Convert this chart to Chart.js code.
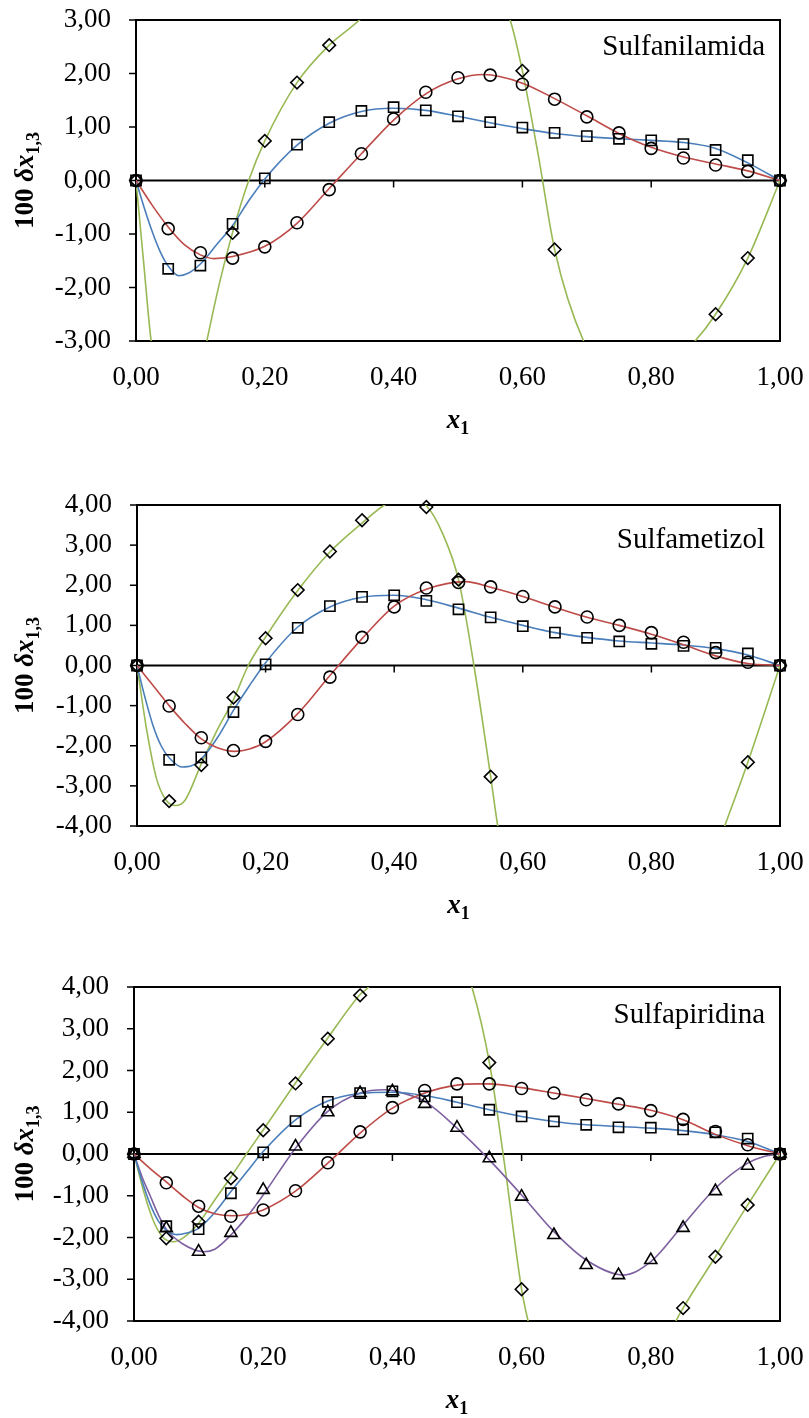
<!DOCTYPE html>
<html>
<head>
<meta charset="utf-8">
<script src="https://cdn.jsdelivr.net/npm/chart.js@4"></script>
<style>
  body { margin: 0; background: #fff; width: 809px; height: 1418px; position: relative; overflow: hidden; }
  .panel { position: absolute; left: 0; }
</style>
</head>
<body>
<div class="panel" style="top:0px"><canvas id="c1" width="809" height="440"></canvas></div>
<div class="panel" style="top:460px"><canvas id="c2" width="809" height="460"></canvas></div>
<div class="panel" style="top:940px"><canvas id="c3" width="809" height="478"></canvas></div>
<script>
// measured points, x1 from 0 to 1 step 0.05
const xMarks = [0, 0.05, 0.1, 0.15, 0.2, 0.25, 0.3, 0.35, 0.4, 0.45, 0.5, 0.55, 0.6, 0.65, 0.7, 0.75, 0.8, 0.85, 0.9, 0.95, 1]

// Sulfanilamida
const p1Circle = [0, -0.90, -1.35, -1.45, -1.24, -0.79, -0.17, 0.50, 1.15, 1.65, 1.92, 1.97, 1.80, 1.52, 1.19, 0.89, 0.60, 0.42, 0.29, 0.17, 0]
const p1Square = [0, -1.65, -1.59, -0.81, 0.04, 0.67, 1.09, 1.30, 1.37, 1.31, 1.20, 1.09, 0.99, 0.89, 0.83, 0.78, 0.75, 0.68, 0.57, 0.38, 0]
const p1Diamond = [0, null, null, -0.98, 0.74, 1.83, 2.53, null, null, null, null, null, 2.05, -1.29, null, null, null, null, -2.50, -1.45, 0]

const p1RedX = [0, 0.025, 0.05, 0.075, 0.1, 0.121, 0.15, 0.2, 0.25, 0.3, 0.35, 0.4, 0.45, 0.5, 0.54, 0.6, 0.65, 0.7, 0.75, 0.8, 0.85, 0.9, 0.95, 1]
const p1RedY = [0, -0.46, -0.87, -1.2, -1.39, -1.46, -1.42, -1.23, -0.8, -0.15, 0.5, 1.13, 1.62, 1.9, 1.98, 1.82, 1.53, 1.21, 0.88, 0.62, 0.44, 0.31, 0.18, 0]
const p1BlueX = [0, 0.0125, 0.025, 0.0375, 0.05, 0.0665, 0.08, 0.1, 0.125, 0.15, 0.175, 0.2, 0.25, 0.3, 0.35, 0.4, 0.45, 0.5, 0.55, 0.6, 0.65, 0.7, 0.75, 0.8, 0.85, 0.9, 0.95, 1]
const p1BlueY = [0, -0.5, -0.95, -1.33, -1.6, -1.78, -1.74, -1.56, -1.2, -0.84, -0.38, 0.03, 0.66, 1.07, 1.29, 1.35, 1.31, 1.2, 1.08, 0.97, 0.88, 0.82, 0.78, 0.75, 0.71, 0.6, 0.33, 0]
const p1GreenX = [0, 0.012, 0.0235, 0.045, 0.065, 0.09, 0.11, 0.13, 0.15, 0.175, 0.2, 0.25, 0.3, 0.347, 0.4, 0.5, 0.55, 0.581, 0.6, 0.625, 0.65, 0.695, 0.725, 0.76, 0.8, 0.84, 0.868, 0.9, 0.95, 1]
const p1GreenY = [0, -1.55, -3.0, -4.4, -4.8, -4.2, -3.0, -1.9, -0.97, 0.0, 0.74, 1.83, 2.53, 3.0, 3.7, 4.0, 3.8, 3.0, 2.05, 0.45, -1.29, -3.0, -3.5, -3.75, -3.6, -3.3, -3.0, -2.5, -1.45, 0]

// Sulfametizol
const p2Circle = [0, -1.01, -1.80, -2.12, -1.89, -1.22, -0.29, 0.70, 1.46, 1.93, 2.07, 1.96, 1.72, 1.46, 1.21, 1.00, 0.82, 0.58, 0.32, 0.08, 0]
const p2Square = [0, -2.35, -2.29, -1.16, 0.03, 0.94, 1.48, 1.71, 1.75, 1.61, 1.40, 1.20, 0.98, 0.82, 0.69, 0.60, 0.54, 0.49, 0.44, 0.30, 0]
const p2Diamond = [0, -3.38, -2.48, -0.80, 0.68, 1.88, 2.84, 3.62, null, 3.95, 2.14, -2.77, null, null, null, null, null, null, null, -2.41, 0]

const p2RedX = [0, 0.025, 0.05, 0.075, 0.1, 0.125, 0.152, 0.175, 0.2, 0.25, 0.3, 0.35, 0.4, 0.45, 0.511, 0.55, 0.6, 0.65, 0.7, 0.75, 0.8, 0.85, 0.9, 0.95, 1]
const p2RedY = [0, -0.5, -1.0, -1.45, -1.83, -2.05, -2.14, -2.08, -1.9, -1.2, -0.25, 0.67, 1.48, 1.9, 2.09, 1.95, 1.72, 1.45, 1.2, 1.0, 0.78, 0.52, 0.24, 0.05, 0]
const p2BlueX = [0, 0.0125, 0.025, 0.0375, 0.05, 0.07, 0.085, 0.1, 0.125, 0.15, 0.175, 0.2, 0.25, 0.3, 0.35, 0.4, 0.45, 0.5, 0.55, 0.6, 0.65, 0.7, 0.75, 0.8, 0.85, 0.9, 0.95, 1]
const p2BlueY = [0, -0.8, -1.5, -2.0, -2.3, -2.53, -2.5, -2.33, -1.8, -1.12, -0.5, 0.07, 0.96, 1.46, 1.7, 1.75, 1.64, 1.43, 1.2, 1.0, 0.82, 0.7, 0.61, 0.56, 0.51, 0.42, 0.26, 0]
const p2GreenX = [0, 0.015, 0.03, 0.045, 0.06, 0.075, 0.1, 0.125, 0.15, 0.173, 0.2, 0.25, 0.3, 0.35, 0.385, 0.415, 0.45, 0.475, 0.5, 0.524, 0.55, 0.561, 0.6, 0.7, 0.8, 0.88, 0.914, 0.95, 1]
const p2GreenY = [0, -1.6, -2.8, -3.35, -3.49, -3.35, -2.45, -1.6, -0.85, 0.0, 0.71, 1.87, 2.83, 3.55, 4.0, 4.2, 3.98, 3.3, 2.14, 0.0, -2.77, -4.0, -7.5, -10, -9, -5.5, -4.0, -2.41, 0]

// Sulfapiridina
const p3Circle = [0, -0.69, -1.25, -1.49, -1.34, -0.88, -0.21, 0.53, 1.11, 1.52, 1.68, 1.68, 1.57, 1.46, 1.30, 1.20, 1.04, 0.83, 0.54, 0.22, 0]
const p3Square = [0, -1.73, -1.80, -0.94, 0.04, 0.79, 1.25, 1.46, 1.50, 1.38, 1.24, 1.06, 0.90, 0.78, 0.70, 0.64, 0.63, 0.59, 0.52, 0.37, 0]
const p3Triangle = [0, -1.78, -2.34, -1.89, -0.86, 0.18, 1.00, 1.46, 1.50, 1.20, 0.63, -0.10, -1.02, -1.94, -2.66, -2.90, -2.54, -1.77, -0.89, -0.28, 0]
const p3Diamond = [0, -2.02, -1.62, -0.58, 0.57, 1.69, 2.76, 3.80, null, null, null, 2.19, -3.24, null, null, null, null, -3.69, -2.46, -1.22, 0]

const p3RedX = [0, 0.025, 0.05, 0.075, 0.1, 0.125, 0.152, 0.175, 0.2, 0.25, 0.3, 0.35, 0.4, 0.45, 0.5, 0.53, 0.55, 0.6, 0.65, 0.7, 0.75, 0.8, 0.85, 0.9, 0.95, 1]
const p3RedY = [0, -0.35, -0.67, -1.0, -1.28, -1.43, -1.48, -1.45, -1.34, -0.89, -0.22, 0.5, 1.1, 1.46, 1.65, 1.68, 1.68, 1.59, 1.46, 1.33, 1.19, 1.05, 0.82, 0.47, 0.2, 0]
const p3BlueX = [0, 0.0125, 0.025, 0.0375, 0.05, 0.066, 0.08, 0.1, 0.125, 0.15, 0.175, 0.2, 0.25, 0.3, 0.35, 0.4, 0.45, 0.5, 0.55, 0.6, 0.65, 0.7, 0.75, 0.8, 0.85, 0.9, 0.95, 1]
const p3BlueY = [0, -0.65, -1.2, -1.6, -1.83, -1.93, -1.9, -1.78, -1.4, -0.9, -0.42, 0.06, 0.82, 1.27, 1.45, 1.48, 1.4, 1.24, 1.06, 0.9, 0.78, 0.7, 0.66, 0.62, 0.56, 0.46, 0.3, 0]
const p3PurpleX = [0, 0.0125, 0.025, 0.0375, 0.05, 0.075, 0.108, 0.125, 0.15, 0.175, 0.2, 0.25, 0.3, 0.35, 0.388, 0.4, 0.45, 0.5, 0.55, 0.6, 0.65, 0.7, 0.758, 0.8, 0.85, 0.9, 0.95, 0.975, 1]
const p3PurpleY = [0, -0.55, -1.0, -1.45, -1.8, -2.15, -2.34, -2.28, -1.94, -1.5, -0.98, 0.14, 1.02, 1.46, 1.54, 1.52, 1.26, 0.62, -0.14, -0.98, -1.86, -2.54, -2.9, -2.58, -1.7, -0.82, -0.22, -0.06, 0]
const p3GreenX = [0, 0.015, 0.03, 0.045, 0.061, 0.075, 0.1, 0.125, 0.15, 0.174, 0.2, 0.25, 0.3, 0.35, 0.363, 0.4, 0.46, 0.5, 0.523, 0.55, 0.575, 0.6, 0.61, 0.65, 0.72, 0.8, 0.839, 0.85, 0.9, 0.95, 1]
const p3GreenY = [0, -0.9, -1.6, -2.0, -2.1, -2.02, -1.66, -1.1, -0.55, 0.0, 0.576, 1.70, 2.78, 3.82, 4.0, 4.9, 5.3, 4.9, 4.0, 2.2, -0.4, -3.24, -4.0, -6.5, -8, -5.5, -4.0, -3.69, -2.46, -1.22, 0]

const xTicks = { min: 0, max: 1, step: 0.2 }

const RED = '#BE4B48'
const BLUE = '#4A7EBB'
const GREEN = '#98B954'
const PURPLE = '#7D60A0'
const SERIF = '"Liberation Serif", "Times New Roman", serif'

Chart.defaults.font.family = SERIF
Chart.defaults.color = '#000'

function fmt(v) {
  return Number(v).toFixed(2).replace('.', ',')
}

function curve(xs, ys, color) {
  return {
    type: 'line',
    data: xs.map((x, i) => ({ x: x, y: ys[i] })),
    borderColor: color,
    borderWidth: 1.6,
    pointRadius: 0,
    showLine: true,
    fill: false,
    cubicInterpolationMode: 'monotone',
    capBezierPoints: false,
    clip: 0,
    order: 2
  }
}

function marks(ys, style, radius) {
  return {
    type: 'line',
    data: xMarks.map((x, i) => ({ x: x, y: ys[i] })),
    showLine: false,
    pointStyle: style,
    pointRadius: radius,
    pointBorderWidth: 1.6,
    pointBorderColor: '#000',
    pointBackgroundColor: 'rgba(0,0,0,0)',
    clip: false,
    order: 1
  }
}

// draws mixed-font text (for subscripts) centred on cx, baseline at by
function drawRich(ctx, parts, cx, by) {
  let total = 0
  parts.forEach(p => { ctx.font = p[0]; total += ctx.measureText(p[1]).width })
  let x = cx - total / 2
  parts.forEach(p => {
    ctx.font = p[0]
    ctx.fillText(p[1], x, by + p[2])
    x += ctx.measureText(p[1]).width
  })
}

const decor = {
  id: 'decor',
  beforeDatasetsDraw(chart) {
    const { ctx, chartArea: a, scales } = chart
    ctx.save()
    ctx.strokeStyle = '#000'
    ctx.lineWidth = 2
    ctx.strokeRect(a.left, a.top, a.right - a.left, a.bottom - a.top)
    const y0 = scales.y.getPixelForValue(0)
    ctx.beginPath()
    ctx.moveTo(a.left, y0)
    ctx.lineTo(a.right, y0)
    ctx.stroke()
    ctx.lineWidth = 1.5
    // x ticks hang under the zero line, y ticks stick out left
    scales.x.ticks.forEach(t => {
      const px = scales.x.getPixelForValue(t.value)
      ctx.beginPath()
      ctx.moveTo(px, y0)
      ctx.lineTo(px, y0 + 7)
      ctx.stroke()
    })
    scales.y.ticks.forEach(t => {
      const py = scales.y.getPixelForValue(t.value)
      ctx.beginPath()
      ctx.moveTo(a.left - 7, py)
      ctx.lineTo(a.left, py)
      ctx.stroke()
    })
    ctx.restore()
  },
  afterDraw(chart, args, opts) {
    const { ctx, chartArea: a } = chart
    ctx.save()
    ctx.fillStyle = '#000'
    ctx.textBaseline = 'alphabetic'
    ctx.textAlign = 'right'
    ctx.font = '29px ' + SERIF
    ctx.fillText(opts.name, a.right - 15, a.top + opts.nameDy)

    ctx.textAlign = 'left'
    drawRich(ctx, [
      ['bold italic 27px ' + SERIF, 'x', 0],
      ['bold 18px ' + SERIF, '1', 6]
    ], (a.left + a.right) / 2, a.bottom + 87)

    ctx.translate(33, (a.top + a.bottom) / 2)
    ctx.rotate(-Math.PI / 2)
    drawRich(ctx, [
      ['bold 27px ' + SERIF, '100 ', 0],
      ['bold italic 27px ' + SERIF, '\u03b4x', 0],
      ['bold 18px ' + SERIF, '1,3', 6]
    ], 0, 0)
    ctx.restore()
  }
}

const hidden = 'rgba(0,0,0,0)'

function makePanel(id, lay, yRange, name, nameDy, datasets) {
  return new Chart(document.getElementById(id), {
    type: 'scatter',
    data: { datasets: datasets },
    plugins: [decor],
    options: {
      responsive: false,
      animation: false,
      devicePixelRatio: 1,
      layout: { padding: { top: lay.top, right: 29, bottom: 0, left: 0 } },
      plugins: {
        legend: { display: false },
        tooltip: { enabled: false },
        decor: { name: name, nameDy: nameDy }
      },
      scales: {
        x: {
          type: 'linear',
          min: xTicks.min,
          max: xTicks.max,
          grid: { display: true, drawOnChartArea: false, drawTicks: true, tickLength: 18, color: hidden },
          border: { display: false },
          ticks: {
            stepSize: xTicks.step,
            padding: 3,
            font: { size: 27 },
            color: '#000',
            callback: v => fmt(v)
          },
          afterFit: s => { s.height = lay.xh }
        },
        y: {
          type: 'linear',
          min: yRange[0],
          max: yRange[1],
          grid: { display: true, drawOnChartArea: false, drawTicks: true, tickLength: 22, color: hidden },
          border: { display: false },
          ticks: {
            stepSize: 1,
            padding: 3,
            font: { size: 27 },
            color: '#000',
            callback: v => fmt(v)
          },
          afterFit: s => { s.width = lay.left }
        }
      }
    }
  })
}

makePanel('c1', { top: 20, left: 136, xh: 99 }, [-3, 3], 'Sulfanilamida', 35, [
  marks(p1Circle, 'circle', 6),
  marks(p1Square, 'rect', 7.2),
  marks(p1Diamond, 'rectRot', 6.3),
  curve(p1RedX, p1RedY, RED),
  curve(p1BlueX, p1BlueY, BLUE),
  curve(p1GreenX, p1GreenY, GREEN)
])

makePanel('c2', { top: 45, left: 137, xh: 94 }, [-4, 4], 'Sulfametizol', 43, [
  marks(p2Circle, 'circle', 6),
  marks(p2Square, 'rect', 7.2),
  marks(p2Diamond, 'rectRot', 6.3),
  curve(p2RedX, p2RedY, RED),
  curve(p2BlueX, p2BlueY, BLUE),
  curve(p2GreenX, p2GreenY, GREEN)
])

makePanel('c3', { top: 47, left: 134, xh: 97 }, [-4, 4], 'Sulfapiridina', 36, [
  marks(p3Circle, 'circle', 6),
  marks(p3Square, 'rect', 7.2),
  marks(p3Triangle, 'triangle', 7),
  marks(p3Diamond, 'rectRot', 6.3),
  curve(p3RedX, p3RedY, RED),
  curve(p3BlueX, p3BlueY, BLUE),
  curve(p3PurpleX, p3PurpleY, PURPLE),
  curve(p3GreenX, p3GreenY, GREEN)
])
</script>
</body>
</html>
